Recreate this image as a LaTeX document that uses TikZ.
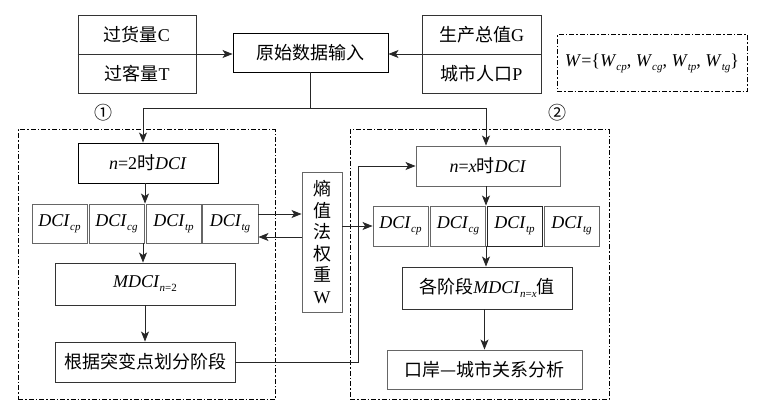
\documentclass[tikz,border=0pt]{standalone}
\usepackage{fontspec}
\setmainfont{Liberation Serif}
\newfontfamily\cjk{Noto Sans CJK SC}
\usetikzlibrary{arrows.meta}
\newcommand{\zh}[1]{{\cjk #1}}
\newcommand{\sbs}[1]{\raisebox{-4pt}{\fontsize{11}{11}\selectfont #1}}
\newcommand{\dci}[1]{\textit{DCI}\sbs{\textit{#1}}}
\newcommand{\wsub}[1]{\textit{W}\sbs{\textit{#1}}}
\tikzset{
  box/.style={draw=black!80, line width=0.9pt, inner sep=0pt, font=\fontsize{18}{21}\selectfont},
  gbox/.style={box, draw=black!60},
  plain/.style={inner sep=0pt, font=\fontsize{18}{21}\selectfont},
  conn/.style={line width=0.9pt, draw=black!85},
  arr/.style={conn, -{Stealth[length=10pt,width=8pt,inset=2.5pt]}},
  dd/.style={line width=1pt, dash pattern=on 5pt off 2pt on 1.5pt off 2pt},
}
\begin{document}
\begin{tikzpicture}[x=1pt,y=-1pt]
\useasboundingbox (0,0) rectangle (764,411);
% top input boxes
\node[box, minimum width=118, minimum height=78] (lt) at (137,54) {};
\node[plain] (c) at (137,34.5) {\zh{过货量}C};
\node[plain] (t) at (137,73.5) {\zh{过客量}T};
\draw[conn, draw=black!80] (lt.west) -- (lt.east);
\node[box, minimum width=119, minimum height=78] (rt) at (481.5,54) {};
\node[plain] (g) at (481.5,34.5) {\zh{生产总值}G};
\node[plain] (p) at (481.5,73.5) {\zh{城市人口}P};
\draw[conn, draw=black!80] (rt.west) -- (rt.east);
\node[box, draw=black, minimum width=155, minimum height=39] (src) at (310.5,52.5) {\zh{原始数据输入}};
\draw[arr] (lt.east) -- (lt.east -| src.west);
\draw[arr] (rt.west) -- (rt.west -| src.east);
% W box
\node[draw, dd, minimum width=190, minimum height=57, inner sep=0pt, font=\fontsize{18}{21}\selectfont] (wbox) at (652,63.5)
  {\textit{W}=\{\wsub{cp}, \wsub{cg}, \wsub{tp}, \wsub{tg}\}};
% circled labels
\node[plain, font=\fontsize{18}{21}\cjk] (one) at (103,113) {①};
\node[plain, font=\fontsize{18}{21}\cjk] (two) at (557,113) {②};
% dash-dot frames
\node[draw, dd, minimum width=257, minimum height=270, inner sep=0pt] (fl) at (146.5,265) {};
\node[draw, dd, minimum width=259, minimum height=270, inner sep=0pt] (fr) at (479.5,265) {};
% left column
\node[box, draw=black, minimum width=140, minimum height=40] (n2) at (148,163) {\textit{n}=2\zh{时}\textit{DCI}};
\node[gbox, minimum width=55, minimum height=39] (lcp) at (59.5,223.5) {\dci{cp}};
\node[gbox, minimum width=55, minimum height=39] (lcg) at (116.5,223.5) {\dci{cg}};
\node[gbox, minimum width=55, minimum height=39] (ltp) at (173.5,223.5) {\dci{tp}};
\node[gbox, minimum width=56, minimum height=39] (ltg) at (230,223.5) {\dci{tg}};
\node[box, minimum width=180, minimum height=42] (m2) at (145,284) {\textit{MDCI}\sbs{\textit{n}=2}};
\node[box, minimum width=180, minimum height=40] (gj) at (145,362) {\zh{根据突变点划分阶段}};
% entropy box
\node[gbox, minimum width=40, minimum height=140, align=center, font=\fontsize{18}{21.5}\selectfont] (ent) at (322,242)
  {\zh{熵}\\\zh{值}\\\zh{法}\\\zh{权}\\\zh{重}\\W};
% right column
\node[gbox, minimum width=144, minimum height=40] (nx) at (488,166) {\textit{n}=\textit{x}\zh{时}\textit{DCI}};
\node[gbox, minimum width=55, minimum height=40] (rcp) at (400.5,226) {\dci{cp}};
\node[gbox, minimum width=55, minimum height=40] (rcg) at (458,226) {\dci{cg}};
\node[gbox, draw=black!85, minimum width=55, minimum height=40] (rtp) at (514.5,226) {\dci{tp}};
\node[gbox, minimum width=55, minimum height=40] (rtg) at (571.5,226) {\dci{tg}};
\node[box, minimum width=170, minimum height=42] (mx) at (487,288) {\zh{各阶段}\textit{MDCI}\sbs{\textit{n}=\textit{x}}\zh{值}};
\node[gbox, minimum width=195, minimum height=39] (ka) at (484.5,369.5) {\zh{口岸—城市关系分析}};
% distribution bar
\coordinate (bl) at (143,108);
\coordinate (br) at (486,108);
\draw[conn] (src.south) -- (src.south |- bl);
\draw[conn] (bl) -- (br);
\draw[arr] (bl) -- (bl |- n2.north);
\draw[arr] (br) -- (br |- nx.north);
% left flow
\draw[arr] ([xshift=-3pt]n2.south) -- ([xshift=-3pt]n2.south |- ltp.north);
\draw[arr] ([xshift=-30.5pt]ltp.south) -- ([xshift=-30.5pt]ltp.south |- m2.north);
\draw[arr] (m2.south) -- (gj.north);
% entropy arrows
\draw[arr] ([yshift=9.5pt]ltg.east) -- ([yshift=9.5pt]ltg.east -| ent.west);
\draw[arr] ([yshift=-13.5pt]ltg.east -| ent.west) -- ([yshift=-13.5pt]ltg.east);
\draw[arr] (rcp.west -| ent.east) -- (rcp.west);
% from stages to n=x
\draw[arr] (gj.east) -- ++(123,0) |- (nx.west);
% right flow
\draw[arr] ([xshift=-2pt]nx.south) -- ([xshift=-2pt]nx.south |- rtp.north);
\draw[arr] ([xshift=-28.5pt]rtp.south) -- ([xshift=-28.5pt]rtp.south |- mx.north);
\draw[arr] ([xshift=-2.5pt]mx.south) -- ([xshift=-2.5pt]mx.south |- ka.north);
\end{tikzpicture}
\end{document}
